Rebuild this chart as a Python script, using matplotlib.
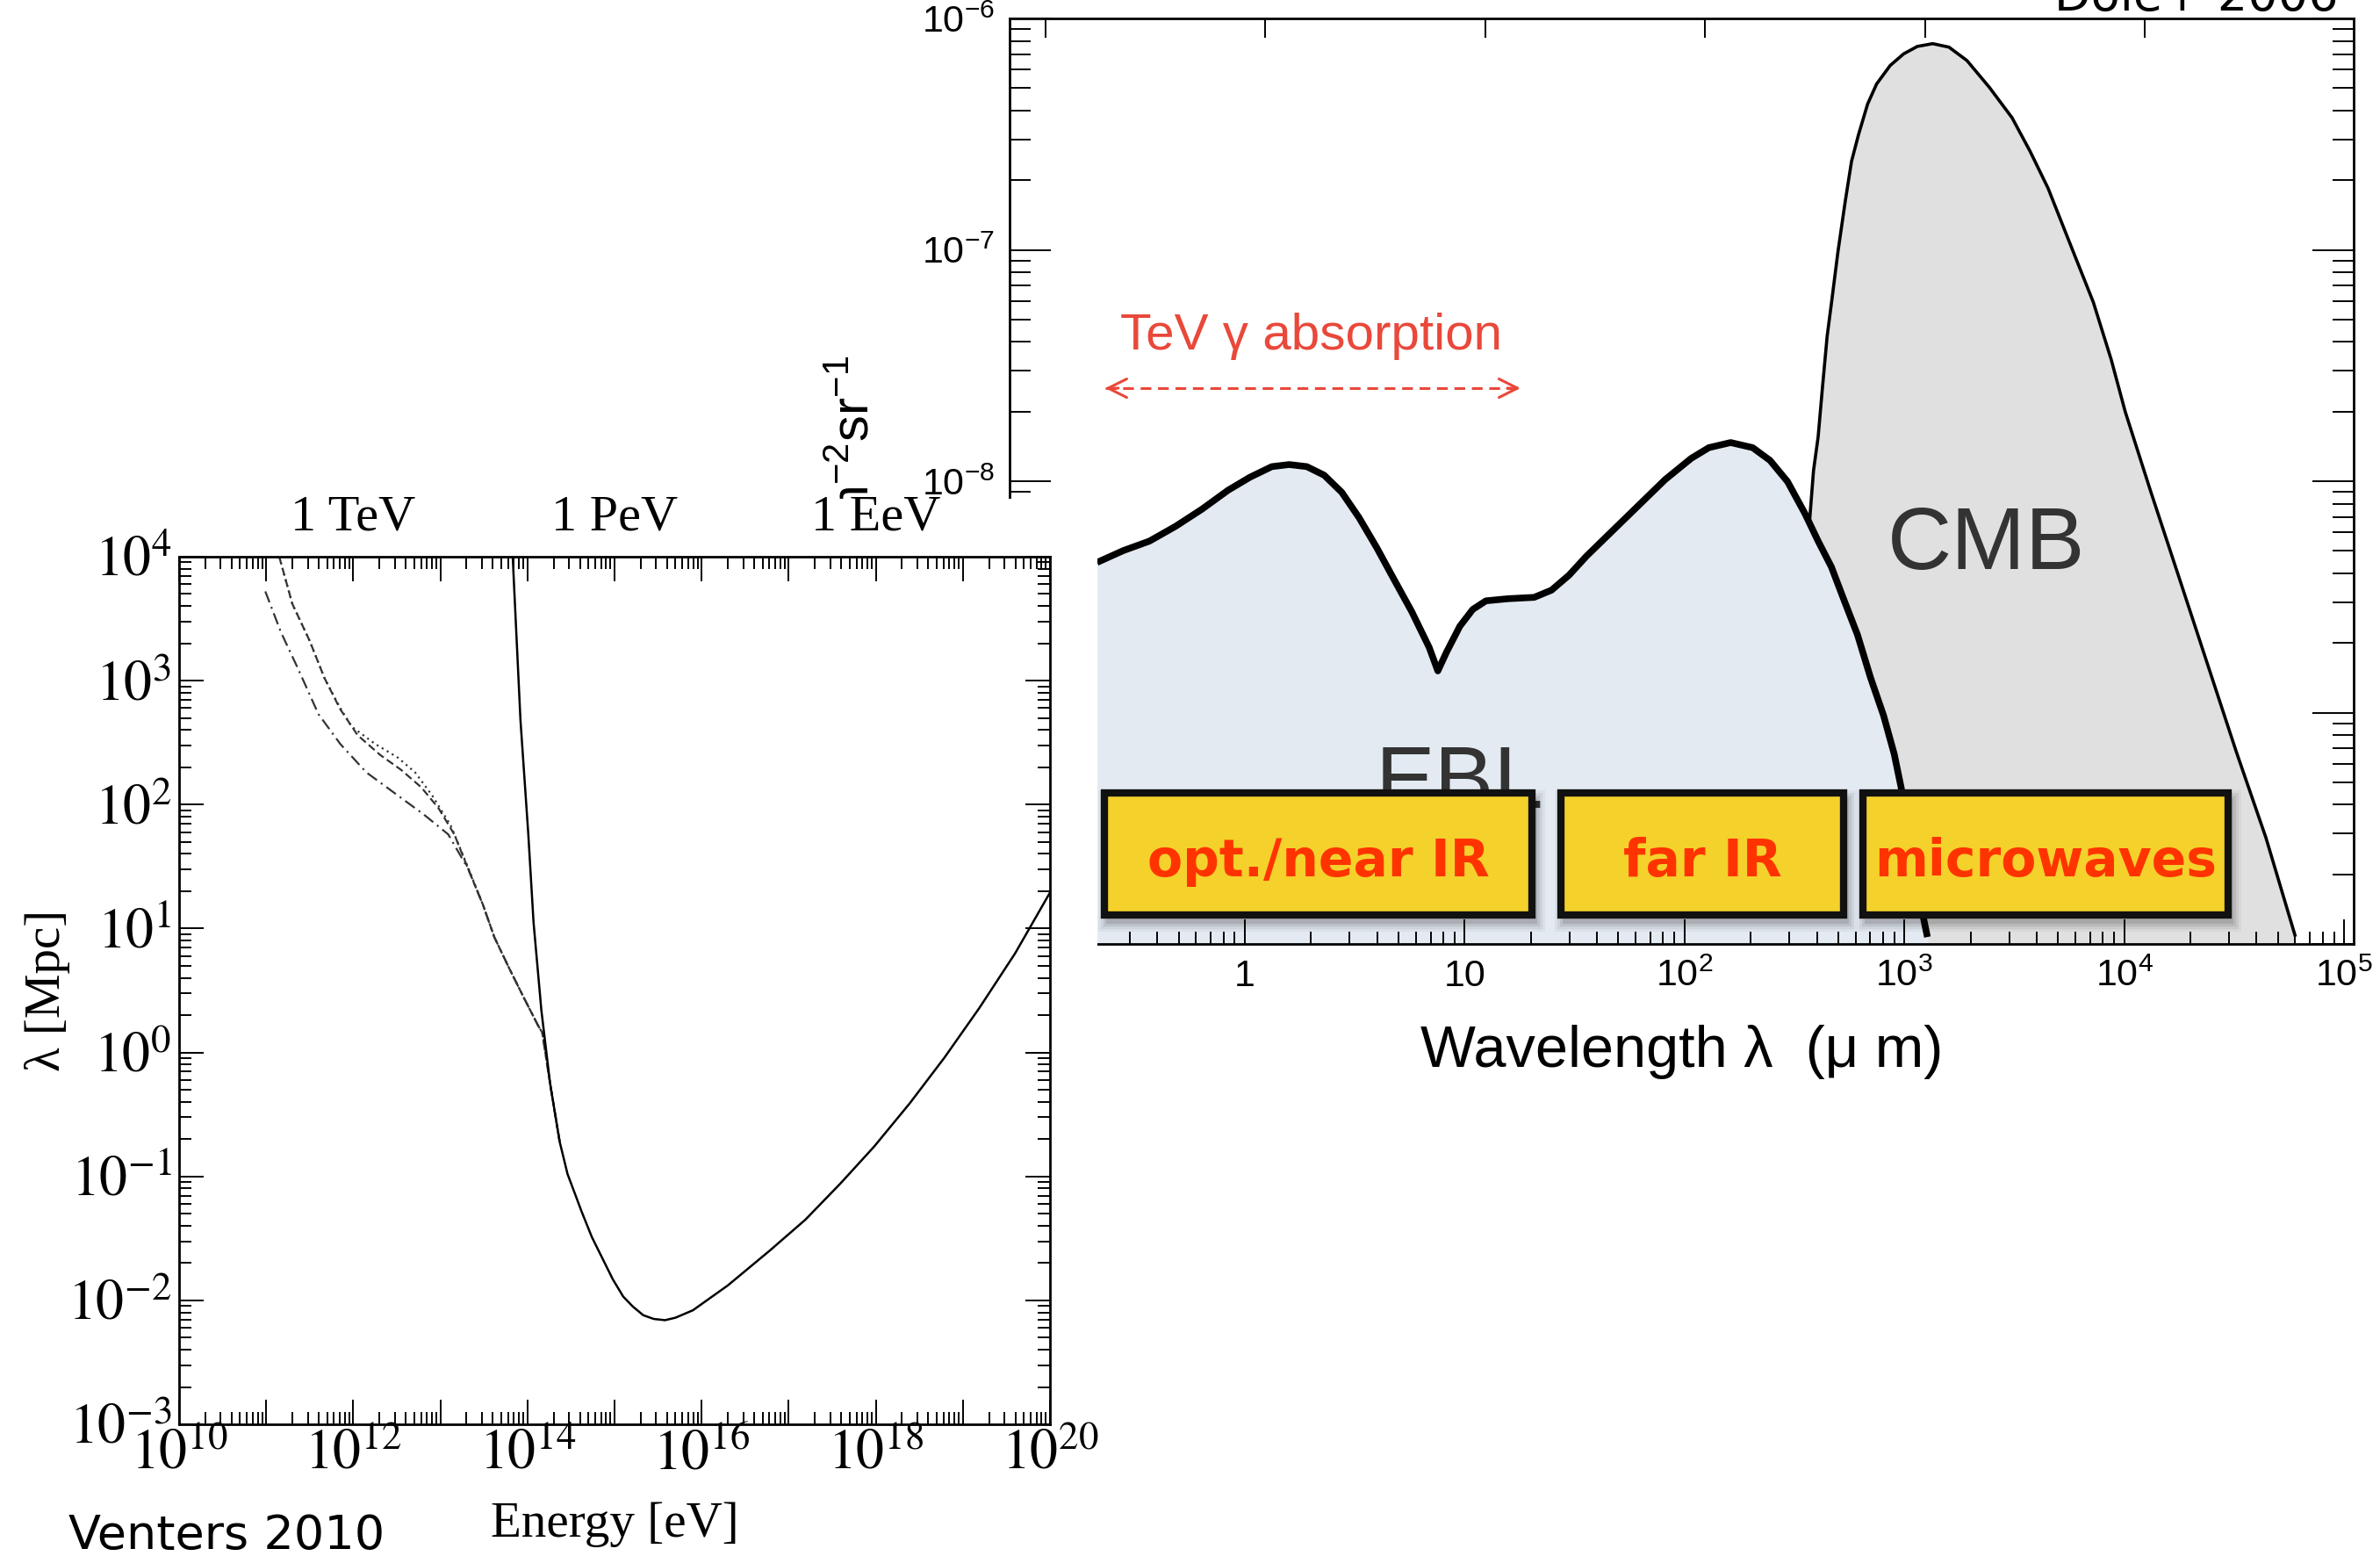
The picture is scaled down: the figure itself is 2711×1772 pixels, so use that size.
import numpy as np
import matplotlib
matplotlib.use("Agg")
import matplotlib.pyplot as plt
from matplotlib import font_manager
from matplotlib.patches import Rectangle
from matplotlib.ticker import LogLocator, NullFormatter, NullLocator

# ------------------------------------------------------------------
# Gamma-ray mean free path (Venters 2010), log10 E [eV] / log10 lambda [Mpc]
# ------------------------------------------------------------------
# pair production on the CMB alone
mfp_cmb_logE = [13.83, 13.92, 14.01, 14.07, 14.16, 14.26, 14.37, 14.46, 14.62, 14.74,
                14.86, 14.98, 15.10, 15.21, 15.33, 15.45, 15.58, 15.70, 15.90, 16.06,
                16.30, 16.54, 16.78, 17.19, 17.59, 17.98, 18.39, 18.79, 19.19, 19.60, 20.00]
mfp_cmb_loglam = [4.01, 2.68, 1.76, 1.05, 0.34, -0.25, -0.72, -0.98, -1.28, -1.49,
                  -1.66, -1.83, -1.97, -2.05, -2.12, -2.15, -2.16, -2.14, -2.08, -2.00,
                  -1.88, -1.74, -1.60, -1.35, -1.06, -0.76, -0.41, -0.04, 0.36, 0.80, 1.29]

# EBL + CMB, three EBL models
mfp_dash_logE = [11.15, 11.30, 11.50, 11.67, 11.85, 12.05, 12.31, 12.55, 12.78, 12.98,
                 13.16, 13.32, 13.49, 13.62, 13.79, 13.96, 14.12, 14.17, 14.26, 14.37]
mfp_dash_loglam = [4.00, 3.62, 3.32, 3.02, 2.77, 2.56, 2.40, 2.28, 2.14, 1.97,
                   1.76, 1.48, 1.19, 0.93, 0.68, 0.44, 0.22, 0.16, -0.25, -0.72]

mfp_dot_logE = [11.15, 11.30, 11.50, 11.67, 11.85, 11.98, 12.25, 12.51, 12.71, 12.91,
                13.12, 13.32, 13.49, 13.62, 13.79, 13.96, 14.12, 14.17, 14.26, 14.37]
mfp_dot_loglam = [4.00, 3.62, 3.32, 3.02, 2.78, 2.63, 2.49, 2.38, 2.26, 2.07,
                  1.83, 1.49, 1.19, 0.93, 0.68, 0.44, 0.22, 0.16, -0.25, -0.72]

mfp_dashdot_logE = [10.99, 11.17, 11.37, 11.60, 11.85, 12.15, 12.48, 12.81, 13.09,
                    13.32, 13.49, 13.62, 13.79, 13.96, 14.12, 14.17, 14.26, 14.37]
mfp_dashdot_loglam = [3.72, 3.39, 3.09, 2.73, 2.49, 2.26, 2.09, 1.92, 1.76,
                      1.48, 1.19, 0.93, 0.68, 0.44, 0.22, 0.16, -0.25, -0.72]

energy_marks = [1e12, 1e15, 1e18]
energy_mark_labels = ["1 TeV", "1 PeV", "1 EeV"]

# ------------------------------------------------------------------
# Background photon spectrum (Dole+ 2006), log10 wavelength [um] / log10 brightness
# ------------------------------------------------------------------
ebl_logwl = [-0.672, -0.553, -0.434, -0.315, -0.195, -0.076, 0.023, 0.123, 0.202, 0.282,
             0.361, 0.441, 0.520, 0.600, 0.679, 0.759, 0.839, 0.878, 0.918, 0.978,
             1.037, 1.097, 1.196, 1.316, 1.395, 1.475, 1.554, 1.674, 1.793, 1.912,
             2.031, 2.111, 2.210, 2.310, 2.389, 2.469, 2.548, 2.608, 2.668, 2.727,
             2.787, 2.846, 2.906, 2.954, 2.986, 3.085, 3.105]
ebl_logI = [-8.351, -8.300, -8.259, -8.195, -8.121, -8.039, -7.983, -7.937, -7.928, -7.937,
            -7.974, -8.048, -8.158, -8.287, -8.425, -8.563, -8.719, -8.820, -8.738, -8.627,
            -8.554, -8.517, -8.508, -8.502, -8.471, -8.406, -8.324, -8.213, -8.103, -7.993,
            -7.901, -7.855, -7.833, -7.855, -7.910, -8.002, -8.140, -8.259, -8.370, -8.517,
            -8.664, -8.848, -9.014, -9.179, -9.326, -9.878, -9.970]

cmb_logwl = [2.567, 2.587, 2.608, 2.628, 2.649, 2.669, 2.698, 2.731, 2.760, 2.792,
             2.833, 2.874, 2.936, 2.997, 3.059, 3.129, 3.203, 3.285, 3.387, 3.490,
             3.572, 3.654, 3.757, 3.860, 3.941, 4.005, 4.120, 4.250, 4.380, 4.510,
             4.645, 4.777]
cmb_logI = [-8.197, -7.954, -7.808, -7.591, -7.373, -7.227, -7.009, -6.792, -6.617, -6.501,
            -6.370, -6.283, -6.203, -6.153, -6.121, -6.109, -6.124, -6.182, -6.298, -6.429,
            -6.574, -6.734, -6.981, -7.227, -7.474, -7.700, -8.042, -8.417, -8.793, -9.169,
            -9.541, -9.962]

band_names = ["opt./near IR", "far IR", "microwaves"]
photon_energy_ev = [10, 1, 0.1, 0.01, 1e-3, 1e-4]   # top axis marks
tev_absorption_logwl = [-0.635, 1.254]
tev_absorption_logI = -7.598

# ------------------------------------------------------------------
W, H = 2711, 1772
SERIF = "Liberation Serif"
SANS = "Liberation Sans"
HAND = "DejaVu Sans"
RED = "#e9483a"

# narrow variant for the spectrum tick numbers, if it is installed
installed = {f.name for f in font_manager.fontManager.ttflist}
NARROW = "Liberation Sans Narrow" if "Liberation Sans Narrow" in installed else SANS
tick_size = 34 if NARROW != SANS else 31

plt.rcParams["font.family"] = SANS
plt.rcParams["mathtext.fontset"] = "custom"
plt.rcParams["mathtext.rm"] = NARROW
plt.rcParams["mathtext.it"] = NARROW + ":italic"
plt.rcParams["mathtext.bf"] = NARROW + ":bold"

fig = plt.figure(figsize=(W / 100, H / 100), dpi=100)
fig.patch.set_facecolor("white")


def px_box(x0, y0, x1, y1):
    """Figure-fraction [left, bottom, width, height] from pixel corners."""
    return [x0 / W, 1 - y1 / H, (x1 - x0) / W, (y1 - y0) / H]


# ---------------- spectrum panel (drawn first, partly covered) ----------------
axR = fig.add_axes(px_box(1150, 21, 2681, 1075), zorder=0)
axR.set_xscale("log")
axR.set_yscale("log")
axR.set_xlim(10 ** -1.07, 10 ** 5.044)
axR.set_ylim(1e-10, 1e-6)

cmb_wl = 10.0 ** np.array(cmb_logwl)
cmb_I = 10.0 ** np.array(cmb_logI)
ebl_wl = 10.0 ** np.array(ebl_logwl)
ebl_I = 10.0 ** np.array(ebl_logI)

axR.fill_between(cmb_wl, cmb_I, 1e-10, color="#e0e0e0", lw=0, zorder=0.3)
axR.plot(cmb_wl, cmb_I, color="k", lw=2.6, zorder=0.6, solid_joinstyle="round")
axR.fill_between(ebl_wl, ebl_I, 1e-10, color="#e3eaf2", lw=0, zorder=0.8)
axR.plot(ebl_wl, ebl_I, color="k", lw=5.5, zorder=2,
         solid_capstyle="butt", solid_joinstyle="round")

axR.text(10 ** 3.375, 10 ** -8.38, "CMB", fontsize=73, color="#333333",
         ha="center", va="baseline", zorder=3)
axR.text(10 ** 0.975, 10 ** -9.41, "EBL", fontsize=73, color="#333333",
         ha="center", va="baseline", zorder=3)

# TeV gamma absorption range
axR.text(10 ** 0.300, 10 ** -7.431, "TeV γ absorption", fontsize=42, color=RED,
         ha="center", va="baseline", zorder=3)
arr_x = 10.0 ** np.array(tev_absorption_logwl)
arr_y = 10.0 ** tev_absorption_logI
axR.plot(arr_x, [arr_y, arr_y], color=RED, lw=2.2, ls=(0, (4, 2.5)), zorder=3)
for tip, tail in ((arr_x[0], arr_x[0] * 10 ** 0.06), (arr_x[1], arr_x[1] / 10 ** 0.06)):
    axR.annotate("", xy=(tip, arr_y), xytext=(tail, arr_y),
                 arrowprops=dict(arrowstyle="->", color=RED, lw=2.2, mutation_scale=38,
                                 shrinkA=0, shrinkB=0), zorder=3)

xt = [10.0 ** k for k in range(-1, 6)]
axR.set_xticks(xt, ["0.1", "1", "10", r"$10^{2}$", r"$10^{3}$", r"$10^{4}$", r"$10^{5}$"],
               fontsize=tick_size, family=NARROW)
axR.xaxis.set_minor_locator(LogLocator(base=10, subs=np.arange(2, 10), numticks=100))
axR.xaxis.set_minor_formatter(NullFormatter())
yt = [10.0 ** k for k in range(-10, -5)]
axR.set_yticks(yt, [rf"$10^{{{k}}}$" for k in range(-10, -5)], fontsize=tick_size,
               family=NARROW)
axR.yaxis.set_minor_locator(LogLocator(base=10, subs=np.arange(2, 10), numticks=100))
axR.yaxis.set_minor_formatter(NullFormatter())
axR.tick_params(axis="x", which="both", direction="in", top=False, bottom=True,
                width=1.4, pad=12)
axR.tick_params(axis="x", which="major", length=20)
axR.tick_params(axis="x", which="minor", length=10)
axR.tick_params(axis="y", which="both", direction="in", left=True, right=True,
                width=1.4, pad=12)
axR.tick_params(axis="y", which="major", length=34)
axR.tick_params(axis="y", which="minor", length=17)
for s in axR.spines.values():
    s.set_linewidth(2)

axR.set_xlabel("Wavelength λ  (μ m)", fontsize=48)
axR.xaxis.set_label_coords(0.5, -0.087)
axR.text(-0.118, 0.636, r"$\nu I_\nu$  W m$^{-2}$sr$^{-1}$", rotation=90,
         fontsize=43, ha="center", va="top", transform=axR.transAxes)

# photon-energy marks along the top edge
axTop = axR.twiny()
axTop.set_xscale("log")
axTop.set_xlim(axR.get_xlim())
axTop.set_xticks(1.24 / np.array(photon_energy_ev))
axTop.xaxis.set_minor_locator(NullLocator())
axTop.tick_params(axis="x", which="major", direction="in", length=16, width=1.4,
                  top=True, bottom=False, labeltop=False, labelbottom=False)
for s in axTop.spines.values():
    s.set_visible(False)

# white backing of the mean-free-path panel
fig.add_artist(Rectangle((0, 0), 1250 / W, 1 - 568 / H, transform=fig.transFigure,
                         facecolor="white", edgecolor="none", zorder=1))

# ---------------- mean free path panel ----------------
axL = fig.add_axes(px_box(204, 634, 1196, 1622), zorder=2)
axL.set_xscale("log")
axL.set_yscale("log")
axL.set_xlim(1e10, 1e20)
axL.set_ylim(1e-3, 1e4)


def curve(logE, loglam):
    return 10.0 ** np.array(logE), 10.0 ** np.array(loglam)


axL.plot(*curve(mfp_dot_logE, mfp_dot_loglam), color="#333333", lw=1.6, ls=(0, (1, 2)))
axL.plot(*curve(mfp_dash_logE, mfp_dash_loglam), color="#333333", lw=1.6, ls=(0, (4, 2)))
axL.plot(*curve(mfp_dashdot_logE, mfp_dashdot_loglam), color="#333333", lw=1.6,
         ls=(0, (6, 2.5, 1, 2.5)))
axL.plot(*curve(mfp_cmb_logE, mfp_cmb_loglam), color="k", lw=1.8,
         solid_joinstyle="round")

ex = list(range(10, 21))
axL.set_xticks([10.0 ** k for k in ex],
               [rf"$10^{{{k}}}$" if k % 2 == 0 else "" for k in ex],
               fontsize=46, family=SERIF, math_fontfamily="stix")
ly = list(range(-3, 5))
axL.set_yticks([10.0 ** k for k in ly], [rf"$10^{{{k}}}$" for k in ly],
               fontsize=46, family=SERIF, math_fontfamily="stix")
for axis in (axL.xaxis, axL.yaxis):
    axis.set_minor_locator(LogLocator(base=10, subs=np.arange(2, 10), numticks=100))
    axis.set_minor_formatter(NullFormatter())
axL.tick_params(which="both", direction="in", top=True, right=True, width=1.4)
axL.tick_params(which="major", length=20)
axL.tick_params(which="minor", length=10)
axL.tick_params(axis="x", pad=5)
axL.tick_params(axis="y", pad=6)
for s in axL.spines.values():
    s.set_linewidth(2)

axL.set_xlabel("Energy [eV]", fontsize=41, family=SERIF)
axL.xaxis.set_label_coords(0.5, -0.089)
axL.set_ylabel("λ [Mpc]", fontsize=41, family=SERIF)
axL.yaxis.set_label_coords(-0.125, 0.5)

sec = axL.secondary_xaxis("top")
sec.set_xticks(energy_marks, energy_mark_labels, fontsize=42, family=SERIF)
sec.xaxis.set_minor_locator(NullLocator())
sec.tick_params(which="both", length=0, pad=13)
for s in sec.spines.values():
    s.set_visible(False)

# ---------------- band boxes ----------------
box_spans = [(1258, 1745), (1778, 2100), (2122, 2538)]
box_top, box_bottom = 903, 1042
for name, (x0, x1) in zip(band_names, box_spans):
    # soft drop shadow
    for k, a in enumerate([0.10, 0.08, 0.06, 0.04]):
        g = 2 + 3 * k
        fig.add_artist(Rectangle(((x0 + 4 - g) / W, 1 - (box_bottom + 8 + g) / H),
                                 (x1 - x0 + 2 * g) / W, (box_bottom - box_top + 2 * g) / H,
                                 transform=fig.transFigure, facecolor="k", alpha=a,
                                 edgecolor="none", zorder=4))
    fig.add_artist(Rectangle((x0 / W, 1 - box_bottom / H), (x1 - x0) / W,
                             (box_bottom - box_top) / H, transform=fig.transFigure,
                             facecolor="#f4d12b", edgecolor="#111111", lw=6, zorder=5))
    fig.text((x0 + x1) / 2 / W, 1 - 998 / H, name, ha="center", va="baseline",
             color="#ff3300", fontsize=42, fontweight="bold", family=HAND, zorder=6)

fig.text(78 / W, 1 - 1764 / H, "Venters 2010", fontsize=39, family=HAND,
         ha="left", va="baseline")
fig.text(2664 / W, 1 - 12 / H, "Dole+ 2006", fontsize=39, family=HAND,
         ha="right", va="baseline")

fig.savefig("out.png", dpi=100)
